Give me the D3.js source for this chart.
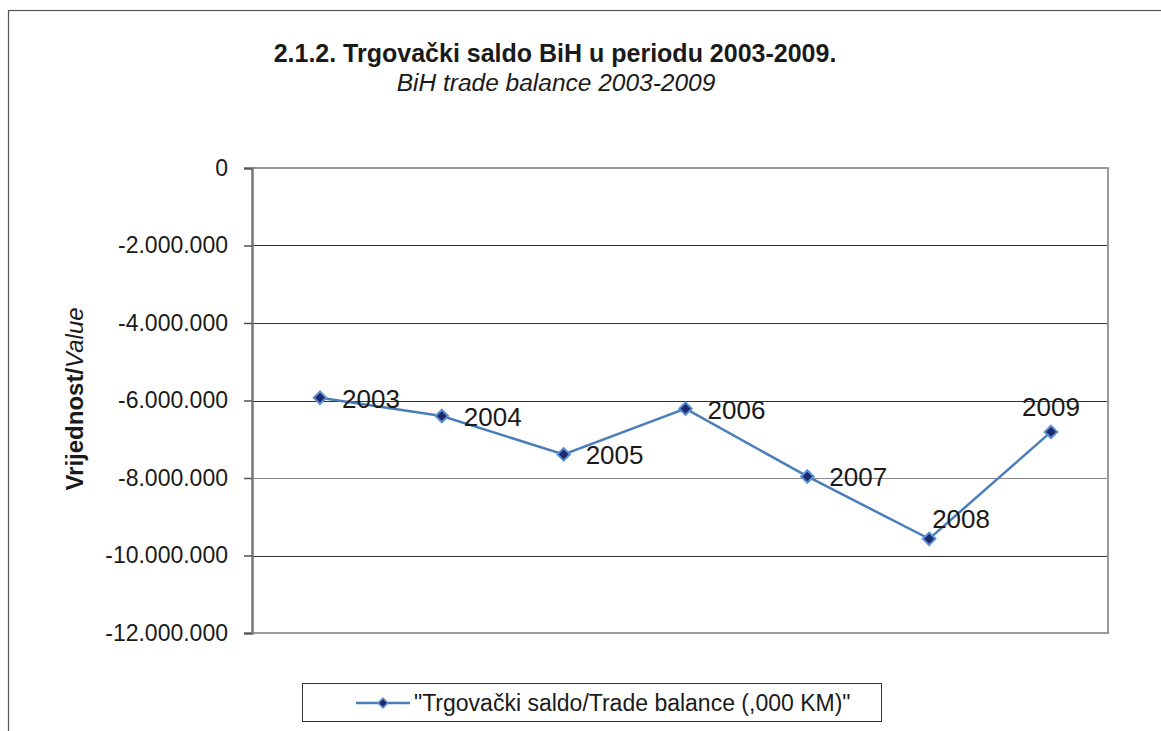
<!DOCTYPE html>
<html><head><meta charset="utf-8">
<script src="https://cdn.jsdelivr.net/npm/d3@7"></script>
<style>body{margin:0;background:#fff}svg{display:block;font-family:"Liberation Sans",Arial,sans-serif}</style>
</head><body>
<svg id="c" width="1161" height="731"></svg>
<script>
const years = ["2003","2004","2005","2006","2007","2008","2009"];
const tradeBalance = [-5928000, -6400000, -7390000, -6210000, -7960000, -9570000, -6810000];
const yTicks = [0, -2000000, -4000000, -6000000, -8000000, -10000000, -12000000];
const labelPos = ["right","right","right","right","right","aboveRight","above"];
const titleText = "2.1.2. Trgovački saldo BiH u periodu 2003-2009.";
const subtitleText = "BiH trade balance 2003-2009";
const seriesName = "\"Trgovački saldo/Trade balance (,000 KM)\"";

const svg = d3.select("#c");
const L = 252, R = 1108, T = 168, B = 633;

// outer border
svg.append("rect").attr("x",8.5).attr("y",10.5).attr("width",1170).attr("height",740)
  .attr("fill","none").attr("stroke","#555").attr("stroke-width",1.2);

svg.append("text").attr("x",555).attr("y",62).attr("text-anchor","middle")
  .attr("font-size",25).attr("font-weight","bold").attr("fill","#1a1a1a").text(titleText);
svg.append("text").attr("x",556).attr("y",91).attr("text-anchor","middle")
  .attr("font-size",24.5).attr("font-style","italic").attr("fill","#1a1a1a").text(subtitleText);

const y = d3.scaleLinear().domain([-12000000, 0]).range([B, T]);
const x = d3.scalePoint().domain(years).range([L + 68, R - 57]);

const fmt = v => v === 0 ? "0" : d3.format(",")(v).replace(/,/g, ".").replace("−","-");

// gridlines
svg.append("g").selectAll("line").data(yTicks.filter(v => v !== 0 && v !== -12000000)).join("line")
  .attr("x1",L).attr("x2",R).attr("y1",d=>Math.round(y(d))+0.5).attr("y2",d=>Math.round(y(d))+0.5)
  .attr("stroke",d => d === -8000000 ? "#888" : "#333").attr("stroke-width",1);

// plot frame (top, right, bottom) in gray
svg.append("path").attr("d",`M${L},${T}H${R}V${B}H${L}`).attr("fill","none")
  .attr("stroke","#999").attr("stroke-width",2);

// y axis
const yAxis = d3.axisLeft(y).tickValues(yTicks).tickFormat(fmt).tickSize(8).tickPadding(16);
const ga = svg.append("g").attr("transform",`translate(${L},0)`).call(yAxis);
ga.select(".domain").attr("stroke","#777").attr("stroke-width",2.5);
ga.selectAll(".tick line").attr("stroke","#555").attr("stroke-width",1.5);
ga.selectAll(".tick text").attr("font-size",23).attr("fill","#1a1a1a")
  .attr("font-family","'Liberation Sans',Arial,sans-serif");

// y axis title
const yt = svg.append("text").attr("transform","translate(83,399) rotate(-90)")
  .attr("text-anchor","middle").attr("font-size",24).attr("fill","#1a1a1a");
yt.append("tspan").attr("font-weight","bold").text("Vrijednost/");
yt.append("tspan").attr("font-style","italic").text("Value");

// line
const pts = years.map((yr,i)=>({yr, v: tradeBalance[i], pos: labelPos[i]}));
svg.append("path").datum(pts)
  .attr("d", d3.line().x(d=>x(d.yr)).y(d=>y(d.v)))
  .attr("fill","none").attr("stroke","#4a7ebb").attr("stroke-width",2.5);

const diamond = d3.symbol().type(d3.symbolDiamond2).size(100);
svg.append("g").selectAll("path").data(pts).join("path")
  .attr("d", diamond).attr("transform", d=>`translate(${x(d.yr)},${y(d.v)})`)
  .attr("fill","#1f2a6e").attr("stroke","#5b8fd0").attr("stroke-width",2);

// data labels
svg.append("g").selectAll("text").data(pts).join("text")
  .attr("font-size",26).attr("fill","#1a1a1a")
  .attr("x", d => d.pos === "above" ? x(d.yr) : d.pos === "aboveRight" ? x(d.yr) + 3 : x(d.yr) + 22)
  .attr("y", d => d.pos === "above" ? y(d.v) - 16 : d.pos === "aboveRight" ? y(d.v) - 11 : y(d.v) + 10)
  .attr("text-anchor", d => d.pos === "above" ? "middle" : "start")
  .text(d => d.yr);

// legend
svg.append("rect").attr("x",302.5).attr("y",683.5).attr("width",579).attr("height",38)
  .attr("fill","#fff").attr("stroke","#333").attr("stroke-width",1);
svg.append("line").attr("x1",356).attr("x2",410).attr("y1",703).attr("y2",703)
  .attr("stroke","#4a7ebb").attr("stroke-width",2.5);
svg.append("path").attr("d", d3.symbol().type(d3.symbolDiamond2).size(60))
  .attr("transform","translate(383,703)")
  .attr("fill","#1f2a6e").attr("stroke","#5b8fd0").attr("stroke-width",1.5);
svg.append("text").attr("x",414).attr("y",711).attr("font-size",23).attr("fill","#1a1a1a").text(seriesName);
</script>
</body></html>
